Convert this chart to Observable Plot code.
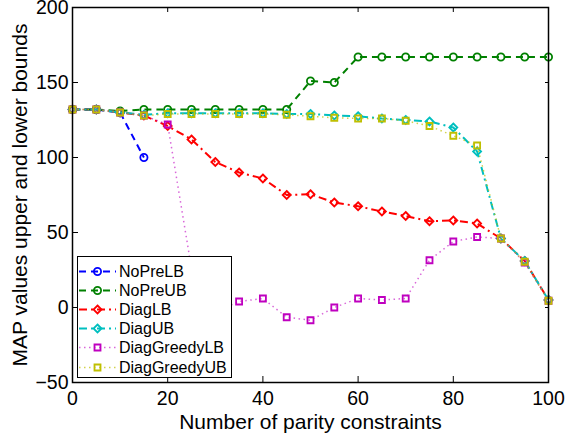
<!DOCTYPE html>
<html>
<head>
<meta charset="utf-8">
<script src="https://cdn.jsdelivr.net/npm/d3@7"></script>
<script src="https://cdn.jsdelivr.net/npm/@observablehq/plot@0.6"></script>
<style>
  html, body { margin: 0; padding: 0; background: #fff; }
  #wrap { position: relative; width: 566px; height: 436px; font-family: "Liberation Sans", Arial, sans-serif; }
  #legend { position: absolute; left: 77px; top: 256px; width: 155px; height: 122px; border: 1.5px solid #000; background: #fff; box-sizing: border-box; }
  .entry { position: absolute; left: 0; height: 19px; }
  .entry svg { position: absolute; left: 0; top: 0; }
  .entry span { position: absolute; left: 41px; top: 0; font-size: 16px; line-height: 19px; white-space: nowrap; color: #000; }
</style>
</head>
<body>
<div id="wrap"><div id="legend"></div></div>
<script>
// ---- data ----
const xAll = [0,5,10,15,20,25,30,35,40,45,50,55,60,65,70,75,80,85,90,95,100];
const xNoPreLB = [0,5,10,15];
const noPreLB = [132,132,130,100];
const noPreUB = [132,132,131,132,132,132,132,132,132,132,151,150,167,167,167,167,167,167,167,167,167];
const diagLB  = [132,132,130,128,121,112,97,90,86,75,75.5,70,67.5,64,61,57.5,58,56,46,31,5];
const diagUB  = [132,132,130,128.5,129.5,129.5,129.5,129.5,129.5,129,129,128,127.5,126,125,124,120,104,46,31,5];
const diagGreedyLB = [132,132,130,128,122,26,-3,4,6,-6.5,-8.5,0,6,5,6,31.5,44,47,46,30,4.5];
const diagGreedyUB = [132,132,130,128,129,129,129,129,129,128.5,127.5,126.5,126,126,124.5,121,114.5,108,46,30.5,4.5];
const seriesNames = ["NoPreLB","NoPreUB","DiagLB","DiagUB","DiagGreedyLB","DiagGreedyUB"];
const xTicks = [0,20,40,60,80,100];
const yTicks = [-50,0,50,100,150,200];
const xLabel = "Number of parity constraints";
const yLabel = "MAP values upper and lower bounds";

// ---- styles ----
const styles = {
  NoPreLB:      {color: "#0000ff", dash: "7,5",      symbol: "circle",   r: 3.6, w: 2,   op: 1},
  NoPreUB:      {color: "#008000", dash: "7,5",      symbol: "circle",   r: 3.6, w: 2,   op: 1},
  DiagLB:       {color: "#ff0000", dash: "8,4,2,4",  symbol: "diamond2", r: 3.6, w: 2,   op: 1},
  DiagUB:       {color: "#00bfbf", dash: "8,4,2,4",  symbol: "diamond2", r: 3.6, w: 2,   op: 1},
  DiagGreedyLB: {color: "#bf00bf", dash: "1.5,3.5",  symbol: "square",   r: 3.4, w: 1.5, op: 0.6},
  DiagGreedyUB: {color: "#bfbf00", dash: "1.5,3.5",  symbol: "square",   r: 3.4, w: 1.5, op: 0.7}
};
const seriesData = {
  NoPreLB: xNoPreLB.map((x, i) => ({x, y: noPreLB[i]})),
  NoPreUB: xAll.map((x, i) => ({x, y: noPreUB[i]})),
  DiagLB: xAll.map((x, i) => ({x, y: diagLB[i]})),
  DiagUB: xAll.map((x, i) => ({x, y: diagUB[i]})),
  DiagGreedyLB: xAll.map((x, i) => ({x, y: diagGreedyLB[i]})),
  DiagGreedyUB: xAll.map((x, i) => ({x, y: diagGreedyUB[i]}))
};

const marks = [];
for (const name of seriesNames) {
  const s = styles[name];
  marks.push(Plot.line(seriesData[name], {x: "x", y: "y", stroke: s.color, strokeWidth: s.w, strokeDasharray: s.dash, strokeOpacity: s.op, strokeLinecap: "butt"}));
  marks.push(Plot.dot(seriesData[name], {x: "x", y: "y", stroke: s.color, fill: "none", symbol: s.symbol, r: s.r, strokeWidth: 1.8}));
}

const font = "Liberation Sans, Arial, sans-serif";
const fmt = d => d < 0 ? "\u2212" + Math.abs(d) : String(d);
const chart = Plot.plot({
  width: 566,
  height: 436,
  marginLeft: 72,
  marginRight: 18,
  marginTop: 7,
  marginBottom: 54,
  style: {fontFamily: font, fontSize: "19px", color: "#000", background: "#fff"},
  x: {domain: [0, 100]},
  y: {domain: [-50, 200]},
  marks: [
    ...marks,
    Plot.frame({stroke: "#000", strokeWidth: 1.5}),
    // inward ticks
    Plot.axisX(xTicks, {anchor: "bottom", tickSize: -6, tickFormat: () => "", label: null, strokeWidth: 1}),
    Plot.axisX(xTicks, {anchor: "top", tickSize: -4, tickFormat: () => "", label: null, strokeWidth: 1}),
    Plot.axisY(yTicks, {anchor: "left", tickSize: -6, tickFormat: () => "", label: null, strokeWidth: 1}),
    Plot.axisY(yTicks, {anchor: "right", tickSize: -4, tickFormat: () => "", label: null, strokeWidth: 1}),
    // tick labels
    Plot.axisX(xTicks, {anchor: "bottom", tickSize: 0, tickPadding: 9, tickFormat: fmt, label: null, fontSize: 19.5}),
    Plot.axisY(yTicks, {anchor: "left", tickSize: 0, tickPadding: 4, tickFormat: fmt, label: null, fontSize: 19.5}),
    // axis titles
    Plot.text([xLabel], {frameAnchor: "bottom", dy: 39.5, textAnchor: "middle", lineAnchor: "middle", fontSize: 21, fill: "#000"}),
    Plot.text([yLabel], {frameAnchor: "left", dx: -52, rotate: -90, textAnchor: "middle", lineAnchor: "middle", fontSize: 21, fill: "#000"})
  ]
});
document.getElementById("wrap").prepend(chart);

// ---- legend ----
const legend = document.getElementById("legend");
seriesNames.forEach((name, i) => {
  const s = styles[name];
  const div = document.createElement("div");
  div.className = "entry";
  div.style.top = (4.5 + i * 19.2) + "px";
  const svg = d3.create("svg").attr("width", 40).attr("height", 19);
  svg.append("line").attr("x1", 1).attr("x2", 38).attr("y1", 9.5).attr("y2", 9.5)
    .attr("stroke", s.color).attr("stroke-width", s.w).attr("stroke-dasharray", s.dash).attr("stroke-opacity", s.op);
  const sym = {circle: d3.symbolCircle, square: d3.symbolSquare, diamond2: d3.symbolDiamond2}[s.symbol];
  svg.append("path").attr("transform", "translate(19.5,9.5)")
    .attr("d", d3.symbol(sym, Math.PI * s.r * s.r)())
    .attr("fill", "none").attr("stroke", s.color).attr("stroke-width", 1.8);
  div.appendChild(svg.node());
  const span = document.createElement("span");
  span.textContent = name;
  div.appendChild(span);
  legend.appendChild(div);
});
</script>
</body>
</html>
